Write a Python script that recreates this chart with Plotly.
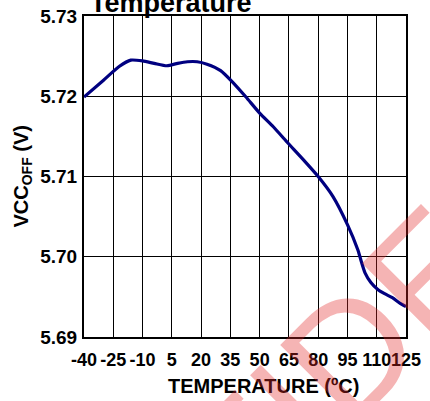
import plotly.graph_objects as go

temps = [-40, -30, -22, -16, -10, -4, 2.5, 8, 13, 18, 23, 30, 36, 43, 50,
         57, 64, 72, 80, 87.6, 95, 100.4, 101.5, 104, 107, 110.7, 114, 118, 122, 125]
vcc_off = [5.7199, 5.7220, 5.7237, 5.7245, 5.7244, 5.7241, 5.7238, 5.7241, 5.7243,
           5.7243, 5.7240, 5.7232, 5.7218, 5.7199, 5.7179, 5.7162, 5.7143, 5.7122,
           5.7100, 5.7075, 5.7040, 5.7008, 5.6999, 5.6980, 5.6968, 5.6959, 5.6954,
           5.6949, 5.6942, 5.6938]
x_ticks = [-40, -25, -10, 5, 20, 35, 50, 65, 80, 95, 110, 125]
y_ticks = [5.69, 5.70, 5.71, 5.72, 5.73]
y_tick_labels = ["5.69", "5.70", "5.71", "5.72", "5.73"]
watermark_text = "CONFIDENTIAL"

fig = go.Figure()
fig.add_trace(go.Scatter(x=temps, y=vcc_off, mode="lines",
                         line=dict(color="#000080", width=3.2, shape="spline", smoothing=0.6),
                         showlegend=False, hoverinfo="skip"))

font = "Liberation Sans, Arial, sans-serif"
fig.update_layout(
    width=430, height=401,
    margin=dict(l=84, r=24, t=16, b=64, autoexpand=False),
    paper_bgcolor="white", plot_bgcolor="white",
    font=dict(family=font, color="black"),
    xaxis=dict(range=[-40, 125], tickvals=x_ticks, ticktext=[str(t) for t in x_ticks],
               showgrid=True, gridcolor="black", gridwidth=1,
               showline=True, linecolor="black", linewidth=2, mirror=True,
               ticks="", zeroline=False, tickangle=0, automargin=False,
               ticklabelstandoff=5,
               tickfont=dict(family=font, size=18, color="black", weight="bold")),
    yaxis=dict(range=[5.69, 5.73], tickvals=y_ticks, ticktext=y_tick_labels,
               showgrid=True, gridcolor="black", gridwidth=1,
               showline=True, linecolor="black", linewidth=2, mirror=True,
               ticks="", zeroline=False, ticklabelstandoff=1, automargin=False,
               tickfont=dict(family=font, size=19, color="black", weight="bold")),
)

fig.add_annotation(text="Temperature", xref="paper", yref="paper", x=0.012, y=1.0,
                   xanchor="left", yanchor="bottom", yshift=-4, showarrow=False,
                   font=dict(family=font, size=27, color="black", weight="bold"))
fig.add_annotation(text="TEMPERATURE (ºC)", xref="paper", yref="paper", x=0.559, y=0,
                   xanchor="center", yanchor="top", yshift=-36, showarrow=False,
                   font=dict(family=font, size=20, color="black", weight="bold"))
fig.add_annotation(text="VCC<sub>OFF</sub> (V)", xref="paper", yref="paper", x=0, y=0.5,
                   xanchor="center", yanchor="middle", xshift=-62, textangle=-90,
                   showarrow=False, font=dict(family=font, size=20, color="black", weight="bold"))
fig.add_annotation(text=watermark_text, xref="paper", yref="paper", x=0.8975, y=0.022,
                   xanchor="center", yanchor="middle", textangle=-45, showarrow=False,
                   font=dict(family=font, size=160, color="rgba(225,40,40,0.35)"))

fig.write_html("out.html", config={"displayModeBar": False},
               post_script="document.body.style.margin='0';")
